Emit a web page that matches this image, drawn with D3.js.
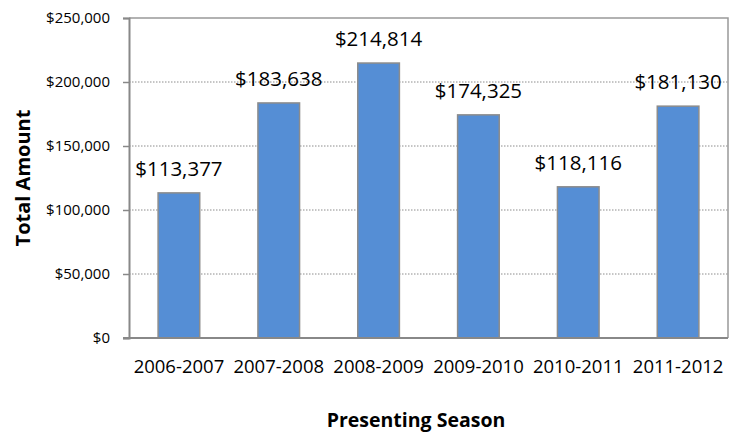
<!DOCTYPE html>
<html>
<head>
<meta charset="utf-8">
<script src="https://cdn.jsdelivr.net/npm/d3@7"></script>
<style>
  html, body { margin: 0; padding: 0; background: #fff; }
  svg { display: block; }
  text { font-family: "Open Sans", "Noto Sans", sans-serif; fill: #000; }
</style>
</head>
<body>
<svg id="chart" width="733" height="433"></svg>
<script>
// Presenting seasons and total amounts raised
const seasons = ["2006-2007", "2007-2008", "2008-2009", "2009-2010", "2010-2011", "2011-2012"];
const totals = [113377, 183638, 214814, 174325, 118116, 181130];
const yTicks = [0, 50000, 100000, 150000, 200000, 250000];
const yTitle = "Total Amount";
const xTitle = "Presenting Season";

const svg = d3.select("#chart");
const plot = { left: 129, right: 728, top: 18, bottom: 338 };

const x = d3.scaleBand()
  .domain(seasons)
  .range([plot.left, plot.right])
  .paddingInner(0.583)
  .paddingOuter(0.2915);

const y = d3.scaleLinear()
  .domain([0, 250000])
  .range([plot.bottom, plot.top]);

const money = d => "$" + d3.format(",")(d);

// dotted horizontal gridlines
svg.append("g")
  .selectAll("line")
  .data(yTicks.filter(t => t > 0 && t < 250000))
  .join("line")
  .attr("x1", plot.left)
  .attr("x2", plot.right)
  .attr("y1", d => y(d))
  .attr("y2", d => y(d))
  .attr("stroke", "#8c8c8c")
  .attr("stroke-width", 1)
  .attr("stroke-dasharray", "1.5,1.5");

// plot area border (top and right)
svg.append("path")
  .attr("d", `M${plot.left},${plot.top}H${plot.right}V${plot.bottom}`)
  .attr("fill", "none")
  .attr("stroke", "#999")
  .attr("stroke-width", 1.5);

// bars
svg.append("g")
  .selectAll("rect")
  .data(seasons.map((s, i) => ({ s, v: totals[i] })))
  .join("rect")
  .attr("x", d => x(d.s))
  .attr("y", d => y(d.v))
  .attr("width", x.bandwidth())
  .attr("height", d => y(0) - y(d.v))
  .attr("fill", "#558ED5")
  .attr("stroke", "#8c8c8c")
  .attr("stroke-width", 1.5);

// value labels above bars
svg.append("g")
  .selectAll("text")
  .data(seasons.map((s, i) => ({ s, v: totals[i] })))
  .join("text")
  .attr("x", d => x(d.s) + x.bandwidth() / 2)
  .attr("y", d => y(d.v) - 17)
  .attr("text-anchor", "middle")
  .style("font-size", "20.5px")
  .text(d => money(d.v));

// y axis
const yAxis = svg.append("g")
  .attr("transform", `translate(${plot.left},0)`)
  .call(d3.axisLeft(y).tickValues(yTicks).tickFormat(money).tickSize(6).tickPadding(13));
yAxis.select(".domain").attr("stroke", "#888").attr("stroke-width", 2);
yAxis.selectAll(".tick line").attr("stroke", "#888").attr("stroke-width", 1.5);
yAxis.selectAll(".tick text")
  .style("font-size", "15px")
  .style("font-family", "'Open Sans', sans-serif")
  .attr("fill", "#000");

// x axis
const xAxis = svg.append("g")
  .attr("transform", `translate(0,${plot.bottom})`)
  .call(d3.axisBottom(x).tickSize(0).tickPadding(0));
xAxis.select(".domain")
  .attr("d", `M${plot.left - 6},0H${plot.right}`)
  .attr("stroke", "#888").attr("stroke-width", 2);
xAxis.selectAll(".tick text")
  .attr("dy", null)
  .attr("y", 35)
  .style("font-size", "18.5px")
  .style("font-family", "'Open Sans', sans-serif")
  .attr("fill", "#000");

// axis titles
svg.append("text")
  .attr("transform", `translate(30,${(plot.top + plot.bottom) / 2}) rotate(-90)`)
  .attr("text-anchor", "middle")
  .style("font-size", "20px")
  .style("font-weight", "bold")
  .text(yTitle);

svg.append("text")
  .attr("x", 416)
  .attr("y", 427)
  .attr("text-anchor", "middle")
  .style("font-size", "19.5px")
  .style("font-weight", "bold")
  .text(xTitle);
</script>
</body>
</html>
